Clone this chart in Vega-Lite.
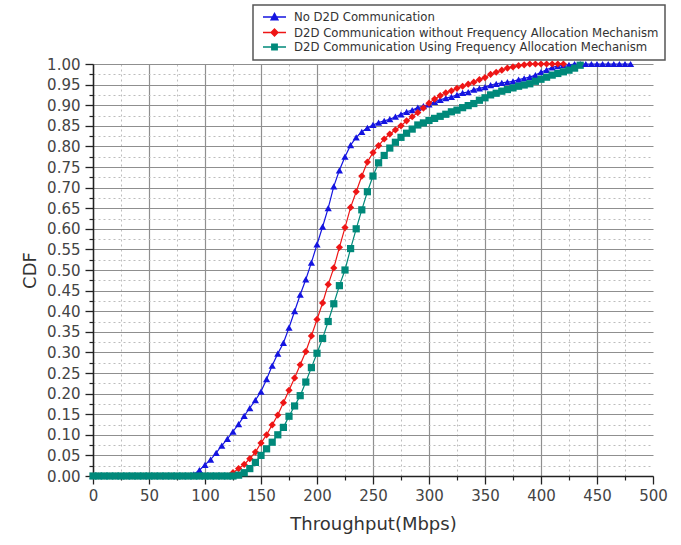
{
  "$schema": "https://vega.github.io/schema/vega-lite/v6.json",
  "autosize": "none",
  "width": 560,
  "height": 412,
  "padding": {"left": 93, "top": 64, "right": 28, "bottom": 69},
  "config": {"view": {"stroke": null}, "font": "DejaVu Sans"},
  "data": {"values": [
    {"x":0,"No D2D Communication":0,"D2D Communication without Frequency Allocation Mechanism":0,"D2D Communication Using Frequency Allocation Mechanism":0},
    {"x":5,"No D2D Communication":0,"D2D Communication without Frequency Allocation Mechanism":0,"D2D Communication Using Frequency Allocation Mechanism":0},
    {"x":10,"No D2D Communication":0,"D2D Communication without Frequency Allocation Mechanism":0,"D2D Communication Using Frequency Allocation Mechanism":0},
    {"x":15,"No D2D Communication":0,"D2D Communication without Frequency Allocation Mechanism":0,"D2D Communication Using Frequency Allocation Mechanism":0},
    {"x":20,"No D2D Communication":0,"D2D Communication without Frequency Allocation Mechanism":0,"D2D Communication Using Frequency Allocation Mechanism":0},
    {"x":25,"No D2D Communication":0,"D2D Communication without Frequency Allocation Mechanism":0,"D2D Communication Using Frequency Allocation Mechanism":0},
    {"x":30,"No D2D Communication":0,"D2D Communication without Frequency Allocation Mechanism":0,"D2D Communication Using Frequency Allocation Mechanism":0},
    {"x":35,"No D2D Communication":0,"D2D Communication without Frequency Allocation Mechanism":0,"D2D Communication Using Frequency Allocation Mechanism":0},
    {"x":40,"D2D Communication without Frequency Allocation Mechanism":0,"D2D Communication Using Frequency Allocation Mechanism":0},
    {"x":45,"No D2D Communication":0,"D2D Communication without Frequency Allocation Mechanism":0,"D2D Communication Using Frequency Allocation Mechanism":0},
    {"x":50,"No D2D Communication":0,"D2D Communication without Frequency Allocation Mechanism":0,"D2D Communication Using Frequency Allocation Mechanism":0},
    {"x":55,"No D2D Communication":0,"D2D Communication without Frequency Allocation Mechanism":0,"D2D Communication Using Frequency Allocation Mechanism":0},
    {"x":60,"No D2D Communication":0,"D2D Communication without Frequency Allocation Mechanism":0,"D2D Communication Using Frequency Allocation Mechanism":0},
    {"x":65,"No D2D Communication":0,"D2D Communication without Frequency Allocation Mechanism":0,"D2D Communication Using Frequency Allocation Mechanism":0},
    {"x":70,"No D2D Communication":0,"D2D Communication without Frequency Allocation Mechanism":0,"D2D Communication Using Frequency Allocation Mechanism":0},
    {"x":75,"No D2D Communication":0,"D2D Communication without Frequency Allocation Mechanism":0,"D2D Communication Using Frequency Allocation Mechanism":0},
    {"x":80,"No D2D Communication":0,"D2D Communication without Frequency Allocation Mechanism":0,"D2D Communication Using Frequency Allocation Mechanism":0},
    {"x":85,"No D2D Communication":0,"D2D Communication without Frequency Allocation Mechanism":0,"D2D Communication Using Frequency Allocation Mechanism":0},
    {"x":90,"No D2D Communication":0.004,"D2D Communication without Frequency Allocation Mechanism":0,"D2D Communication Using Frequency Allocation Mechanism":0},
    {"x":95,"No D2D Communication":0.014,"D2D Communication without Frequency Allocation Mechanism":0,"D2D Communication Using Frequency Allocation Mechanism":0},
    {"x":100,"No D2D Communication":0.027,"D2D Communication without Frequency Allocation Mechanism":0,"D2D Communication Using Frequency Allocation Mechanism":0},
    {"x":105,"No D2D Communication":0.04,"D2D Communication without Frequency Allocation Mechanism":0,"D2D Communication Using Frequency Allocation Mechanism":0},
    {"x":110,"No D2D Communication":0.056,"D2D Communication without Frequency Allocation Mechanism":0,"D2D Communication Using Frequency Allocation Mechanism":0},
    {"x":115,"No D2D Communication":0.074,"D2D Communication without Frequency Allocation Mechanism":0,"D2D Communication Using Frequency Allocation Mechanism":0},
    {"x":120,"No D2D Communication":0.09,"D2D Communication without Frequency Allocation Mechanism":0,"D2D Communication Using Frequency Allocation Mechanism":0},
    {"x":125,"No D2D Communication":0.108,"D2D Communication without Frequency Allocation Mechanism":0.008,"D2D Communication Using Frequency Allocation Mechanism":0},
    {"x":130,"No D2D Communication":0.126,"D2D Communication without Frequency Allocation Mechanism":0.018,"D2D Communication Using Frequency Allocation Mechanism":0.002},
    {"x":135,"No D2D Communication":0.146,"D2D Communication without Frequency Allocation Mechanism":0.028,"D2D Communication Using Frequency Allocation Mechanism":0.008},
    {"x":140,"No D2D Communication":0.165,"D2D Communication without Frequency Allocation Mechanism":0.042,"D2D Communication Using Frequency Allocation Mechanism":0.018},
    {"x":145,"No D2D Communication":0.184,"D2D Communication without Frequency Allocation Mechanism":0.058,"D2D Communication Using Frequency Allocation Mechanism":0.033},
    {"x":150,"No D2D Communication":0.205,"D2D Communication without Frequency Allocation Mechanism":0.08,"D2D Communication Using Frequency Allocation Mechanism":0.05},
    {"x":155,"No D2D Communication":0.235,"D2D Communication without Frequency Allocation Mechanism":0.1,"D2D Communication Using Frequency Allocation Mechanism":0.066},
    {"x":160,"No D2D Communication":0.268,"D2D Communication without Frequency Allocation Mechanism":0.124,"D2D Communication Using Frequency Allocation Mechanism":0.082},
    {"x":165,"No D2D Communication":0.297,"D2D Communication without Frequency Allocation Mechanism":0.148,"D2D Communication Using Frequency Allocation Mechanism":0.1},
    {"x":170,"No D2D Communication":0.323,"D2D Communication without Frequency Allocation Mechanism":0.178,"D2D Communication Using Frequency Allocation Mechanism":0.118},
    {"x":175,"No D2D Communication":0.36,"D2D Communication without Frequency Allocation Mechanism":0.208,"D2D Communication Using Frequency Allocation Mechanism":0.145},
    {"x":180,"No D2D Communication":0.4,"D2D Communication without Frequency Allocation Mechanism":0.238,"D2D Communication Using Frequency Allocation Mechanism":0.17},
    {"x":185,"No D2D Communication":0.44,"D2D Communication without Frequency Allocation Mechanism":0.27,"D2D Communication Using Frequency Allocation Mechanism":0.195},
    {"x":190,"No D2D Communication":0.477,"D2D Communication without Frequency Allocation Mechanism":0.302,"D2D Communication Using Frequency Allocation Mechanism":0.228},
    {"x":195,"No D2D Communication":0.518,"D2D Communication without Frequency Allocation Mechanism":0.34,"D2D Communication Using Frequency Allocation Mechanism":0.263},
    {"x":200,"No D2D Communication":0.562,"D2D Communication without Frequency Allocation Mechanism":0.38,"D2D Communication Using Frequency Allocation Mechanism":0.298},
    {"x":205,"No D2D Communication":0.605,"D2D Communication without Frequency Allocation Mechanism":0.42,"D2D Communication Using Frequency Allocation Mechanism":0.334},
    {"x":210,"No D2D Communication":0.65,"D2D Communication without Frequency Allocation Mechanism":0.465,"D2D Communication Using Frequency Allocation Mechanism":0.375},
    {"x":215,"No D2D Communication":0.703,"D2D Communication without Frequency Allocation Mechanism":0.505,"D2D Communication Using Frequency Allocation Mechanism":0.418},
    {"x":220,"No D2D Communication":0.742,"D2D Communication without Frequency Allocation Mechanism":0.555,"D2D Communication Using Frequency Allocation Mechanism":0.462},
    {"x":225,"No D2D Communication":0.775,"D2D Communication without Frequency Allocation Mechanism":0.603,"D2D Communication Using Frequency Allocation Mechanism":0.5},
    {"x":230,"No D2D Communication":0.803,"D2D Communication without Frequency Allocation Mechanism":0.652,"D2D Communication Using Frequency Allocation Mechanism":0.552},
    {"x":235,"No D2D Communication":0.822,"D2D Communication without Frequency Allocation Mechanism":0.69,"D2D Communication Using Frequency Allocation Mechanism":0.6},
    {"x":240,"No D2D Communication":0.835,"D2D Communication without Frequency Allocation Mechanism":0.728,"D2D Communication Using Frequency Allocation Mechanism":0.646},
    {"x":245,"No D2D Communication":0.845,"D2D Communication without Frequency Allocation Mechanism":0.762,"D2D Communication Using Frequency Allocation Mechanism":0.69},
    {"x":250,"No D2D Communication":0.852,"D2D Communication without Frequency Allocation Mechanism":0.785,"D2D Communication Using Frequency Allocation Mechanism":0.728},
    {"x":255,"No D2D Communication":0.858,"D2D Communication without Frequency Allocation Mechanism":0.802,"D2D Communication Using Frequency Allocation Mechanism":0.76},
    {"x":260,"No D2D Communication":0.862,"D2D Communication without Frequency Allocation Mechanism":0.818,"D2D Communication Using Frequency Allocation Mechanism":0.778},
    {"x":265,"No D2D Communication":0.866,"D2D Communication without Frequency Allocation Mechanism":0.83,"D2D Communication Using Frequency Allocation Mechanism":0.796},
    {"x":270,"No D2D Communication":0.872,"D2D Communication without Frequency Allocation Mechanism":0.84,"D2D Communication Using Frequency Allocation Mechanism":0.81},
    {"x":275,"No D2D Communication":0.878,"D2D Communication without Frequency Allocation Mechanism":0.85,"D2D Communication Using Frequency Allocation Mechanism":0.822},
    {"x":280,"No D2D Communication":0.884,"D2D Communication without Frequency Allocation Mechanism":0.862,"D2D Communication Using Frequency Allocation Mechanism":0.832},
    {"x":285,"No D2D Communication":0.888,"D2D Communication without Frequency Allocation Mechanism":0.872,"D2D Communication Using Frequency Allocation Mechanism":0.842},
    {"x":290,"No D2D Communication":0.894,"D2D Communication without Frequency Allocation Mechanism":0.882,"D2D Communication Using Frequency Allocation Mechanism":0.852},
    {"x":295,"No D2D Communication":0.898,"D2D Communication without Frequency Allocation Mechanism":0.893,"D2D Communication Using Frequency Allocation Mechanism":0.857},
    {"x":300,"No D2D Communication":0.902,"D2D Communication without Frequency Allocation Mechanism":0.905,"D2D Communication Using Frequency Allocation Mechanism":0.863},
    {"x":305,"No D2D Communication":0.908,"D2D Communication without Frequency Allocation Mechanism":0.915,"D2D Communication Using Frequency Allocation Mechanism":0.868},
    {"x":310,"No D2D Communication":0.913,"D2D Communication without Frequency Allocation Mechanism":0.923,"D2D Communication Using Frequency Allocation Mechanism":0.873},
    {"x":315,"No D2D Communication":0.917,"D2D Communication without Frequency Allocation Mechanism":0.93,"D2D Communication Using Frequency Allocation Mechanism":0.878},
    {"x":320,"No D2D Communication":0.92,"D2D Communication without Frequency Allocation Mechanism":0.935,"D2D Communication Using Frequency Allocation Mechanism":0.884},
    {"x":325,"No D2D Communication":0.925,"D2D Communication without Frequency Allocation Mechanism":0.941,"D2D Communication Using Frequency Allocation Mechanism":0.888},
    {"x":330,"No D2D Communication":0.93,"D2D Communication without Frequency Allocation Mechanism":0.946,"D2D Communication Using Frequency Allocation Mechanism":0.894},
    {"x":335,"No D2D Communication":0.932,"D2D Communication without Frequency Allocation Mechanism":0.951,"D2D Communication Using Frequency Allocation Mechanism":0.899},
    {"x":340,"No D2D Communication":0.938,"D2D Communication without Frequency Allocation Mechanism":0.956,"D2D Communication Using Frequency Allocation Mechanism":0.904},
    {"x":345,"No D2D Communication":0.941,"D2D Communication without Frequency Allocation Mechanism":0.962,"D2D Communication Using Frequency Allocation Mechanism":0.912},
    {"x":350,"No D2D Communication":0.944,"D2D Communication without Frequency Allocation Mechanism":0.967,"D2D Communication Using Frequency Allocation Mechanism":0.918},
    {"x":355,"No D2D Communication":0.949,"D2D Communication without Frequency Allocation Mechanism":0.975,"D2D Communication Using Frequency Allocation Mechanism":0.925},
    {"x":360,"No D2D Communication":0.952,"D2D Communication without Frequency Allocation Mechanism":0.98,"D2D Communication Using Frequency Allocation Mechanism":0.929},
    {"x":365,"No D2D Communication":0.954,"D2D Communication without Frequency Allocation Mechanism":0.985,"D2D Communication Using Frequency Allocation Mechanism":0.934},
    {"x":370,"No D2D Communication":0.956,"D2D Communication without Frequency Allocation Mechanism":0.99,"D2D Communication Using Frequency Allocation Mechanism":0.938},
    {"x":375,"No D2D Communication":0.958,"D2D Communication without Frequency Allocation Mechanism":0.993,"D2D Communication Using Frequency Allocation Mechanism":0.942},
    {"x":380,"No D2D Communication":0.962,"D2D Communication without Frequency Allocation Mechanism":0.996,"D2D Communication Using Frequency Allocation Mechanism":0.946},
    {"x":385,"No D2D Communication":0.965,"D2D Communication without Frequency Allocation Mechanism":0.998,"D2D Communication Using Frequency Allocation Mechanism":0.949},
    {"x":390,"No D2D Communication":0.968,"D2D Communication without Frequency Allocation Mechanism":1,"D2D Communication Using Frequency Allocation Mechanism":0.952},
    {"x":395,"No D2D Communication":0.973,"D2D Communication without Frequency Allocation Mechanism":1,"D2D Communication Using Frequency Allocation Mechanism":0.958},
    {"x":400,"No D2D Communication":0.98,"D2D Communication without Frequency Allocation Mechanism":1,"D2D Communication Using Frequency Allocation Mechanism":0.963},
    {"x":405,"No D2D Communication":0.986,"D2D Communication without Frequency Allocation Mechanism":1,"D2D Communication Using Frequency Allocation Mechanism":0.968},
    {"x":410,"No D2D Communication":0.992,"D2D Communication without Frequency Allocation Mechanism":1,"D2D Communication Using Frequency Allocation Mechanism":0.973},
    {"x":415,"No D2D Communication":0.995,"D2D Communication without Frequency Allocation Mechanism":1,"D2D Communication Using Frequency Allocation Mechanism":0.977},
    {"x":420,"No D2D Communication":0.997,"D2D Communication without Frequency Allocation Mechanism":1,"D2D Communication Using Frequency Allocation Mechanism":0.981},
    {"x":425,"No D2D Communication":0.998,"D2D Communication Using Frequency Allocation Mechanism":0.985},
    {"x":430,"No D2D Communication":1,"D2D Communication Using Frequency Allocation Mechanism":0.99},
    {"x":435,"No D2D Communication":1,"D2D Communication Using Frequency Allocation Mechanism":0.997},
    {"x":440,"No D2D Communication":1},
    {"x":445,"No D2D Communication":1},
    {"x":450,"No D2D Communication":1},
    {"x":455,"No D2D Communication":1},
    {"x":460,"No D2D Communication":1},
    {"x":465,"No D2D Communication":1},
    {"x":470,"No D2D Communication":1},
    {"x":475,"No D2D Communication":1},
    {"x":480,"No D2D Communication":1}
  ]},
  "transform": [
    {"fold": ["No D2D Communication", "D2D Communication without Frequency Allocation Mechanism", "D2D Communication Using Frequency Allocation Mechanism"], "as": ["series", "cdf"]},
    {"filter": "isValid(datum.cdf)"}
  ],
  "resolve": {"axis": {"x": "independent", "y": "independent"}},
  "layer": [
    {
      "mark": {"type": "line", "strokeWidth": 1.2},
      "encoding": {
        "x": {"field": "x", "type": "quantitative",
          "scale": {"domain": [0, 500], "nice": false, "zero": false},
          "axis": {"orient": "bottom", "values": [0,50,100,150,200,250,300,350,400,450,500],
            "title": "Throughput(Mbps)", "titleFont": "DejaVu Sans", "titleFontSize": 18, "titleFontWeight": "normal", "titleColor": "#333", "titlePadding": 12,
            "labelFont": "DejaVu Sans", "labelFontSize": 15, "labelColor": "#444", "labelPadding": 4, "labelFlush": false, "labelOverlap": false,
            "tickSize": 8, "tickColor": "#222", "tickWidth": 1.3, "domainColor": "#222", "domainWidth": 1.5,
            "grid": true, "gridColor": "#8f8f8f", "gridWidth": 1.2,
            "gridOpacity": {"condition": {"test": "datum.value == 500", "value": 0}, "value": 1}}},
        "y": {"field": "cdf", "type": "quantitative",
          "scale": {"domain": [0, 1], "nice": false},
          "axis": {"orient": "left", "values": [0,0.05,0.1,0.15,0.2,0.25,0.3,0.35,0.4,0.45,0.5,0.55,0.6,0.65,0.7,0.75,0.8,0.85,0.9,0.95,1],
            "format": ".2f", "title": "CDF", "titleFont": "DejaVu Sans", "titleFontSize": 18, "titleFontWeight": "normal", "titleColor": "#333", "titlePadding": 7,
            "labelFont": "DejaVu Sans", "labelFontSize": 15, "labelColor": "#444", "labelPadding": 5, "labelFlush": false, "labelOverlap": false,
            "tickSize": 8, "tickColor": "#222", "tickWidth": 1.3, "domainColor": "#222", "domainWidth": 1.5,
            "grid": true, "gridColor": "#8f8f8f", "gridWidth": 1.2}},
        "color": {"field": "series", "type": "nominal",
          "scale": {"domain": ["No D2D Communication", "D2D Communication without Frequency Allocation Mechanism", "D2D Communication Using Frequency Allocation Mechanism"],
                    "range": ["#1414e0", "#ee1515", "#00897a"]},
          "legend": {"orient": "none", "legendX": 160, "legendY": -59, "title": null,
            "padding": 6, "strokeColor": "#555", "fillColor": "white",
            "labelFont": "DejaVu Sans", "labelFontSize": 11.7, "labelColor": "#333", "labelOffset": 23, "labelLimit": 600,
            "symbolSize": 100, "rowPadding": 1.5,
            "encode": {
              "legend": {"update": {"strokeWidth": {"value": 1.5}}},
              "symbols": {"update": {
                "shape": {"signal": "datum.value === 'No D2D Communication' ? 'M-0.4,0H4.2M1.9,-0.75L2.6,0.55H1.2Z' : datum.value === 'D2D Communication without Frequency Allocation Mechanism' ? 'M-0.4,0H4.2M1.9,-0.7L2.6,0L1.9,0.7L1.2,0Z' : 'M-0.4,0H4.2M1.35,-0.55H2.45V0.55H1.35Z'"},
                "fill": {"signal": "scale('color', datum.value)"},
                "strokeWidth": {"value": 1.3},
                "opacity": {"value": 1}}}}}}
      }
    },
    {
      "mark": {"type": "point", "filled": true, "opacity": 1, "size": 52},
      "encoding": {
        "x": {"field": "x", "type": "quantitative",
          "axis": {"orient": "bottom", "values": [25,75,125,175,225,275,325,375,425,475], "title": null,
            "labels": false, "domain": false, "tickSize": 4, "tickColor": "#222", "tickWidth": 1.2,
            "grid": true, "gridColor": "#bdbdbd", "gridWidth": 1, "gridDash": [2, 3]}},
        "y": {"field": "cdf", "type": "quantitative",
          "axis": {"orient": "left", "values": [0.025,0.075,0.125,0.175,0.225,0.275,0.325,0.375,0.425,0.475,0.525,0.575,0.625,0.675,0.725,0.775,0.825,0.875,0.925,0.975], "title": null,
            "labels": false, "domain": false, "tickSize": 4, "tickColor": "#222", "tickWidth": 1.2,
            "grid": true, "gridColor": "#bdbdbd", "gridWidth": 1, "gridDash": [2, 3]}},
        "color": {"field": "series", "type": "nominal", "legend": null},
        "shape": {"condition": [
            {"test": "datum.series === 'No D2D Communication'", "value": "triangle-up"},
            {"test": "datum.series === 'D2D Communication without Frequency Allocation Mechanism'", "value": "diamond"}],
          "value": "square"}
      }
    }
  ]
}
